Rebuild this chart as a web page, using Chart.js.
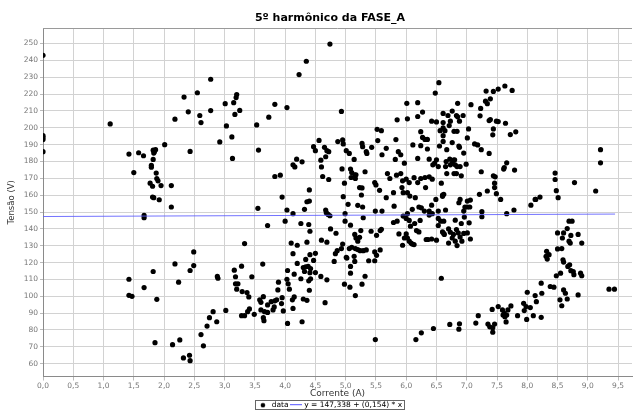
<!DOCTYPE html>
<html>
<head>
<meta charset="utf-8">
<script src="https://cdn.jsdelivr.net/npm/chart.js@4.4.1/dist/chart.umd.min.js"></script>
<style>
  html, body { margin: 0; padding: 0; background: #fff; }
  canvas { display: block; }
</style>
</head>
<body>
<canvas id="chart" width="636" height="410"></canvas>
<script>
// ===== Textos =====
const TITLE = "5º harmônico da FASE_A";
const X_LABEL = "Corrente (A)";
const Y_LABEL = "Tensão (V)";
const SERIES_LABEL = "data";
const FIT_LABEL = "y = 147,338 + (0,154) * x";

// ===== Eixos =====
const X_RANGE = [0, 9.73];
const Y_RANGE = [52.4, 259.1];
const X_TICKS = [0, 0.5, 1, 1.5, 2, 2.5, 3, 3.5, 4, 4.5, 5, 5.5, 6, 6.5, 7, 7.5, 8, 8.5, 9, 9.5];
const Y_TICKS = [60, 70, 80, 90, 100, 110, 120, 130, 140, 150, 160, 170, 180, 190, 200, 210, 220, 230, 240, 250];

// ===== Amostras [corrente (A), tensão (V)] =====
const samples = [
  [0,243],[0,195.3],[0,194.3],[0,193],[0,185.8],
  [1.11,202.3],[1.42,184.4],[1.50,173.4],[1.58,185.2],[1.66,183.4],
  [1.82,186.7],[1.84,185.8],[1.86,187],[1.83,185],[1.82,181.2],[1.79,177.7],[1.79,176.6],[1.87,173.1],
  [1.88,169.9],[1.90,168.5],[1.77,167.1],[1.81,165.3],[1.95,165.7],[2.12,165.7],[1.81,158.9],[1.83,158.5],[1.92,157.3],
  [2.01,190],[2.18,205.1],[2.33,218.2],[2.40,209.5],[2.43,186],[2.55,220.8],[2.59,207.3],[2.61,203.1],
  [2.77,228.8],[2.77,210.2],[2.92,191.6],[3.01,214.3],[3.03,201.1],

  [4.74,249.7],[4.35,239.5],[4.23,231.6],[3.20,219.7],[3.19,217.9],[3.15,214.9],[3.17,207.9],[3.25,210.3],
  [3.83,213.9],[4.03,212],[3.73,206.3],[4.93,209.7],[3.53,201.7],[3.12,194.6],[3.13,181.8],[3.56,186.8],
  [4.56,192.5],[4.47,188.8],[4.50,186.4],[4.65,188.4],[4.69,186.4],[4.72,185.8],[4.67,182.8],[4.59,180.8],
  [4.60,176.8],[4.87,191.8],[4.95,192.8],[4.96,190.4],[5.01,186.4],[5.06,184.8],[5.14,181.2],[4.94,175.6],
  [5.08,175.5],[5.10,173.4],[5.15,172.1],[5.17,172.1],[5.16,169.9],[5.09,170.5],[4.98,167.1],[5.23,164.5],
  [5.27,164.3],[5.32,173.9],[5.27,190.7],[5.28,188.8],[5.34,185.8],[5.35,184.8],[5.43,188.4],[5.52,199.1],
  [5.59,198.3],[5.53,192.4],[5.60,184],[5.67,187.8],[5.82,181.2],[5.83,193],[5.85,204.7],[5.87,185.8],
  [5.91,184],[5.97,179],[6.01,214.5],[6.02,205.3],[6.19,214.9],[6.19,206.7],[6.27,209.3],[6.24,197.7],
  [6.27,194.3],[6.31,193.1],[6.11,189.8],[6.24,189.4],[6.19,181.8],[5.69,172.8],[5.73,169.9],[5.84,171.9],
  [5.91,172.8],[5.94,168.5],[6.00,169.5],[6.05,167.5],[6.13,170.4],[6.19,167.5],[6.24,169.9],[6.31,170.5],
  [6.32,164.5],[5.48,167.5],[5.50,166.1],[5.56,162.9],[5.67,158.5],[5.79,161.5],[5.93,164.5],[5.95,161.5],
  [6.02,161.5],[6.06,159.5],[6.15,158.5],[4.96,159.1],[4.40,163.1],[4.40,156.5],[3.95,158.9],[3.83,171.1],
  [3.92,171.9],[4.13,178],[4.19,181.4],[4.16,176.8],[4.28,179.8],[4.62,171.1],[4.72,169.3],

  [6.54,226.8],[6.48,220.6],[6.85,214.5],[7.07,213.7],[7.32,221.8],[7.44,221.6],[7.52,223],[7.63,224.8],
  [7.75,222.2],[7.31,215.8],[7.39,217.2],[7.34,214.3],[7.23,211.5],[7.22,207.1],[6.61,208.5],[6.76,209.9],
  [6.69,207.3],[6.83,207.3],[6.85,206.5],[6.94,207.3],[6.42,203.9],[6.50,203.5],[6.61,203.1],[6.73,203.9],
  [6.88,203.9],[7.39,204.9],[7.37,204.3],[7.49,203.9],[7.52,203.7],[7.64,202.7],[6.71,201.3],[6.61,199.9],
  [6.56,198.3],[6.64,198.3],[6.79,197.9],[6.84,197.9],[7.03,199.3],[7.44,199.3],[7.43,195.8],[7.72,196],
  [7.81,197.6],[6.61,195.3],[7.01,194],[6.35,193.1],[6.61,191.9],[6.76,191.2],[6.55,189.2],[6.87,189.2],
  [6.88,188.4],[7.13,190.4],[7.18,189.8],[7.24,187],[7.37,184.8],[6.35,187.4],[6.67,187],[6.95,185],
  [6.38,181.4],[6.50,181],[6.66,180],[6.72,181.4],[6.78,180.8],[6.80,181],[6.44,178],[6.47,179],
  [6.53,177],[6.65,177],[6.73,178],[6.76,179],[6.81,178],[6.84,177],[6.89,177],[6.99,178.4],
  [6.67,172.8],[6.79,172.8],[6.83,172.8],[6.91,171.5],[7.24,173.9],[7.66,179.2],[7.62,176.4],[7.61,175.5],
  [7.79,174.9],[7.44,171.5],[7.47,170.9],[6.38,170.9],[6.43,169.5],[6.58,167.1],[7.46,167.1],[7.46,164.5],
  [7.49,160.9],[7.34,162.5],[7.21,160.5],[6.62,160.5],[6.60,159.3],[6.49,157.5],[6.89,157.5],[7.06,157.1],
  [7.56,157.5],[8.46,173.1],[8.46,169.3],[8.48,162.7],[8.51,158.5],[8.78,167.5],[9.13,162.5],[9.21,187],
  [9.21,179.2],[8.13,157.5],[8.21,158.9],

  [2.12,153],[1.67,148],[1.67,146.6],[2.49,126.3],[2.18,119.2],[2.49,118.2],[2.43,115.3],[1.82,114.7],
  [2.24,108.4],[2.88,111.8],[2.89,110.7],[1.42,110.1],[1.67,105.2],[1.42,100.6],[1.47,100],[1.88,98.2],
  [3.02,91.6],[2.81,90.9],[2.75,87.3],[2.87,84.9],[2.71,82.3],[2.61,77.3],[2.65,70.6],[1.85,72.5],
  [2.14,71.3],[2.26,74.1],[2.32,63.4],[2.42,65],[2.43,61.8],

  [3.55,152.2],[4.03,151.2],[4.13,149],[4.00,144.6],[4.36,156.1],[4.32,151.6],[3.71,142],[3.33,131.3],
  [4.26,143.2],[4.39,142.6],[4.41,138.6],[4.67,151.2],[4.68,149.6],[4.71,148.6],[4.74,147.8],[5.04,154.6],
  [5.20,154],[5.28,153],[4.99,149],[4.99,144.6],[5.08,142.2],[4.75,140],[4.84,137.4],[4.60,133.3],
  [4.69,132.1],[4.10,131.6],[4.20,130.3],[4.36,132.1],[4.13,125.3],[4.41,124.7],[4.50,125.5],[4.34,121.9],
  [4.47,121.3],[4.20,119.5],[4.30,117.1],[4.34,117.5],[4.38,117.7],[4.42,116.5],[4.32,114.7],[4.41,114],
  [4.50,114.1],[4.04,115.3],[4.15,113.1],[4.03,110.1],[4.05,107.4],[4.26,110.4],[4.39,109.2],[4.42,110.4],
  [4.59,111.8],[4.69,109.8],[3.89,108.4],[3.88,103.8],[4.07,104.2],[4.40,103.6],[3.63,119.1],[3.28,117.9],
  [3.16,115.5],[3.18,111.6],[3.45,111.6],[3.18,107.4],[3.22,107.4],[3.20,104.2],[3.29,102.8],[3.37,102.2],
  [3.40,99.6],[3.64,99.8],[3.58,97.9],[3.60,96.4],[3.71,94.9],[3.77,96.8],[3.83,97.3],[3.86,97.9],
  [3.95,99.2],[3.94,95.7],[3.82,93.7],[3.80,91.9],[3.41,92.5],[3.38,90.9],[3.28,88.5],[3.33,88.5],
  [3.49,89.3],[3.60,91.9],[3.66,90.9],[3.71,90.4],[3.64,87.3],[3.65,85.5],[4.15,99.6],[4.12,97.9],
  [4.30,98.4],[4.36,97.6],[4.13,92.8],[3.97,91.3],[4.28,84.9],[4.04,83.9],[4.66,96.2],
  [4.83,125.3],[4.86,127.1],[4.93,128.3],[5.01,123.1],[5.06,128.3],[5.10,129.1],[5.16,128.3],[5.20,127.7],
  [5.24,127.1],[5.29,127.1],[5.34,127.5],[5.38,121.1],[5.48,121.1],[5.51,124.3],[5.48,126.3],[5.57,127.5],
  [4.81,120.7],[5.02,122.7],[5.14,123.7],[5.15,120.7],[5.08,117.7],[5.08,113.7],[4.98,107.2],[5.07,105.4],
  [5.16,100.4],[5.27,107.2],[5.32,111.9],[5.15,136.7],[5.17,134.6],[5.20,132.7],[5.23,135],[5.25,139],
  [5.42,138.6],[5.51,136.2],[5.57,139],[5.59,139.8],[4.95,131],[5.49,74.3],[6.16,74.3],[6.25,78.3],
  [5.79,143.8],[5.85,144.6],[5.94,130.3],[5.97,134.6],[6.00,137],[6.02,134.6],[6.05,132.7],[6.08,131.6],
  [6.10,131],[6.13,130.7],[6.07,141.6],[6.14,143.2],[6.23,145],[6.17,139],[6.21,138.2],[6.33,133.7],
  [5.88,137],[5.95,147.6],[6.02,149],[6.10,151.6],[6.21,153],[6.25,152.5],[6.30,150.6],[6.00,146.2],
  [6.05,145],[5.80,153.5],[5.49,150.6],[5.60,150.6],[5.29,146.6],[5.26,160.1],

  [6.42,154.1],[6.60,160.1],[6.87,155.5],[7.01,156.5],[6.38,150.6],[6.38,148.2],[6.43,149],[6.53,150.6],
  [6.65,151.2],[6.97,153],[7.01,153],[7.05,153],[6.95,150.6],[7.25,150.2],[7.25,147.2],[7.66,149],
  [7.78,151.2],[6.53,146.2],[6.62,144.6],[6.57,144.6],[6.81,145.2],[6.96,147],[7.04,143.6],[6.91,143.2],
  [6.53,142],[6.70,140],[6.83,139.6],[6.73,138],[6.60,138.2],[6.62,137.3],[6.78,136.7],[6.86,137.6],
  [6.95,137.3],[7.01,137.6],[6.89,135.2],[6.76,134.6],[6.63,136.7],[6.92,132.7],[7.06,134],[6.70,131.6],
  [6.84,130.1],[6.81,132.7],[6.42,134],[6.36,133.7],[6.50,133.3],[6.58,110.7],[8.06,154.1],[8.14,157.5],
  [8.69,144.6],[8.74,144.6],[8.66,140.2],[8.60,137.6],[8.50,137.6],[8.72,136.1],[8.84,136.7],[8.58,134.6],
  [8.69,132.7],[8.71,131.6],[8.90,131.6],[8.50,128.1],[8.57,128.3],[8.32,126.7],[8.36,124.7],[8.31,123.7],
  [8.33,122.1],[8.59,121.7],[8.60,120.3],[8.70,118.7],[8.67,117.7],[8.72,115.2],[8.76,114.7],[8.77,112.8],
  [8.88,113.7],[8.90,112.2],[8.55,113.7],[8.48,112.2],[8.38,105.8],[8.44,105.4],[8.60,103.8],[8.63,101.8],
  [8.84,100.8],[8.54,97.9],[8.66,98.4],[8.57,94.4],[9.35,104.2],[9.44,104.2],[8.23,107.8],[8.24,101.8],
  [8.13,100.4],[8.00,102.4],[8.15,96.8],[7.94,95.8],[8.05,93.3],[7.95,91.5],[7.98,93.9],[7.73,94.3],
  [7.68,91.9],[7.59,91.9],[7.62,89.9],[7.63,87.9],[7.66,88.9],[7.60,88.9],[7.84,88.5],[8.10,88.5],
  [8.23,87.5],[7.99,86.3],[7.52,93.9],[7.42,92.2],[7.19,88.5],[7.15,84.1],[7.35,83.5],[7.38,81.9],
  [7.43,81.3],[7.43,78.7],[7.46,83.5],[7.65,84.8],[6.88,83.7],[6.87,80.5],[6.72,83.3],[6.45,80.9]
];

// reta de regressão (extremos)
const fitLine = [[0, 147.34], [9.45, 148.79]];

// ===== Helpers =====
const fmtX = (v) => Number(v).toFixed(1).replace(".", ",");
const CENTER_X = 330;
const LEGEND_PAD = 2;

function legendSwatch(kind) {
  const c = document.createElement("canvas");
  if (kind === "dot") {
    c.width = 6; c.height = 6;
    const g = c.getContext("2d");
    g.fillStyle = "#000";
    g.beginPath(); g.arc(3, 3, 2.3, 0, Math.PI * 2); g.fill();
  } else {
    c.width = 12; c.height = 2;
    const g = c.getContext("2d");
    g.fillStyle = "rgba(90,90,255,0.85)";
    g.fillRect(0, 0, 12, 1);
  }
  return c;
}

// centraliza título/legenda e desenha moldura
const framePlugin = {
  id: "frame",
  beforeDraw(chart) {
    [chart.titleBlock, chart.legend].forEach((b) => {
      if (!b) return;
      const dx = CENTER_X - (b.left + b.right) / 2;
      b.left += dx; b.right += dx;
    });
  },
  afterDraw(chart) {
    const { ctx, chartArea: a, legend } = chart;
    ctx.save();
    ctx.strokeStyle = "#9a9a9a";
    ctx.lineWidth = 1;
    ctx.beginPath();
    ctx.moveTo(a.left, Math.round(a.top) + 0.5);
    ctx.lineTo(a.right, Math.round(a.top) + 0.5);
    ctx.stroke();

    // moldura da legenda (mesma conta que o Chart.js usa para posicionar os itens)
    const lw = legend.lineWidths[0];
    const x0 = (legend.left + LEGEND_PAD + legend.right - lw) / 2;
    const l = x0 - 3;
    const r = x0 + lw - LEGEND_PAD + 2;
    const t = legend.top + LEGEND_PAD - 2;
    const btm = Math.min(t + 13, chart.height - 1);
    ctx.strokeStyle = "#666";
    ctx.strokeRect(Math.round(l) + 0.5, Math.round(t) + 0.5, Math.round(r - l), Math.round(btm - t) - 1);
    ctx.restore();
  }
};

const useTicks = (values) => (scale) => {
  scale.ticks = values.map(v => ({ value: v }));
};

new Chart(document.getElementById("chart"), {
  type: "scatter",
  data: {
    datasets: [
      {
        label: SERIES_LABEL,
        data: samples.map(([x, y]) => ({ x, y })),
        backgroundColor: "#000",
        borderColor: "#000",
        pointRadius: 2.6,
        pointBorderWidth: 0,
        order: 2
      },
      {
        label: FIT_LABEL,
        type: "line",
        data: fitLine.map(([x, y]) => ({ x, y })),
        borderColor: "rgba(90,90,255,0.85)",
        borderWidth: 1,
        pointRadius: 0,
        fill: false,
        order: 1
      }
    ]
  },
  options: {
    responsive: false,
    animation: false,
    layout: { padding: { left: 0, right: 0, top: 0, bottom: -9 } },
    plugins: {
      title: {
        display: true,
        text: TITLE,
        color: "#000",
        font: { family: "DejaVu Sans", size: 11, weight: "bold" },
        padding: { top: 12, bottom: 3 }
      },
      legend: {
        position: "bottom",
        labels: {
          usePointStyle: true,
          pointStyleWidth: 10,
          boxHeight: 6,
          padding: LEGEND_PAD,
          color: "#333",
          font: { family: "DejaVu Sans", size: 7.5 },
          generateLabels: () => [
            { text: SERIES_LABEL, pointStyle: legendSwatch("dot"), fillStyle: "#000", strokeStyle: "#000", lineWidth: 0, datasetIndex: 0 },
            { text: FIT_LABEL, pointStyle: legendSwatch("line"), fillStyle: "#55f", strokeStyle: "#55f", lineWidth: 0, datasetIndex: 1 }
          ]
        }
      },
      tooltip: { enabled: false }
    },
    scales: {
      x: {
        type: "linear",
        min: X_RANGE[0],
        max: X_RANGE[1],
        afterBuildTicks: useTicks(X_TICKS),
        afterFit: (s) => { s.height = 23; },
        ticks: {
          autoSkip: false,
          maxRotation: 0,
          padding: 1,
          color: "#777",
          font: { family: "DejaVu Sans", size: 7.5 },
          callback: (v) => fmtX(v)
        },
        grid: { color: "#d2d2d2", tickColor: "#bbb", tickLength: 4 },
        border: { color: "#8a8a8a" },
        title: {
          display: true,
          text: X_LABEL,
          color: "#333",
          font: { family: "DejaVu Sans", size: 9 },
          padding: { top: 0, bottom: 0 }
        }
      },
      y: {
        type: "linear",
        min: Y_RANGE[0],
        max: Y_RANGE[1],
        afterBuildTicks: useTicks(Y_TICKS),
        afterFit: (s) => { s.width = 43; },
        ticks: {
          autoSkip: false,
          padding: 2,
          color: "#777",
          font: { family: "DejaVu Sans", size: 7.5 }
        },
        grid: { color: "#d2d2d2", tickColor: "#bbb", tickLength: 3 },
        border: { color: "#8a8a8a" },
        title: {
          display: true,
          text: Y_LABEL,
          color: "#333",
          font: { family: "DejaVu Sans", size: 8.5 },
          padding: { top: 7, bottom: 0 }
        }
      }
    }
  },
  plugins: [framePlugin]
});
</script>
</body>
</html>
